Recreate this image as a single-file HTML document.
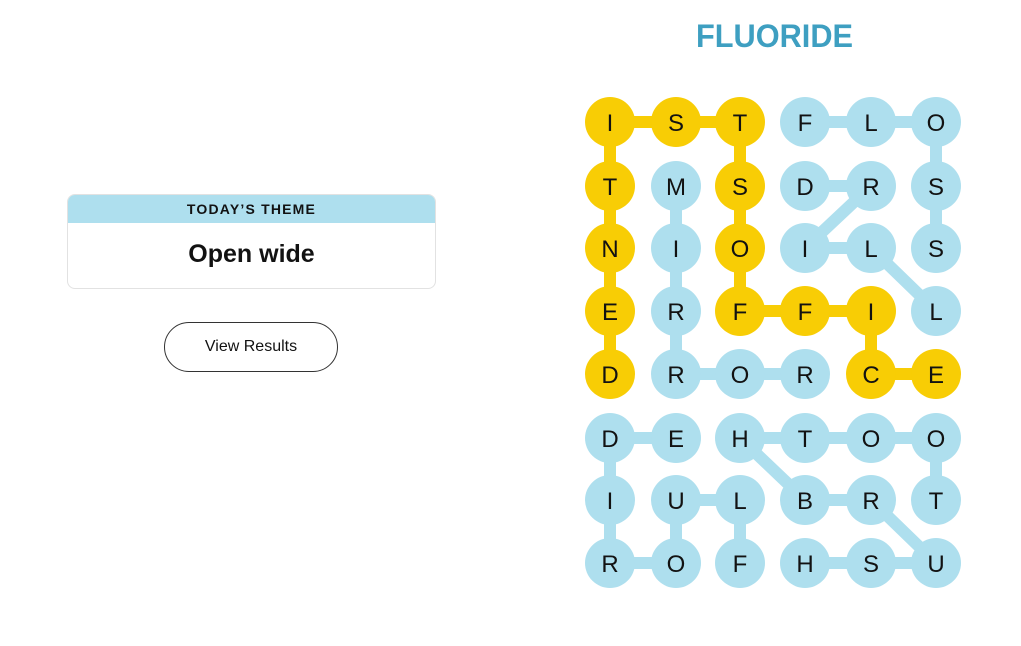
<!DOCTYPE html>
<html><head><meta charset="utf-8"><style>
body{margin:0;width:1021px;height:646px;background:#fff;overflow:hidden;position:relative;font-family:"Liberation Sans",sans-serif}
.card{position:absolute;left:67px;top:194px;width:369px;height:95px;border:1px solid #e2e2e2;border-radius:8px;overflow:hidden;box-sizing:border-box}
.hd{background:#aedfee;height:28px;text-align:center;font-size:14px;letter-spacing:1.2px;line-height:28px;color:#121212;font-weight:bold}
.bd{text-align:center;font-weight:bold;font-size:25px;line-height:62px;color:#121212}
.btn{position:absolute;left:164px;top:322px;width:174px;height:50px;border:1px solid #333;border-radius:25px;box-sizing:border-box;text-align:center;line-height:48px;font-size:16px;color:#121212}
svg{position:absolute;left:0;top:0}
</style></head><body>
<div class="card"><div class="hd">TODAY’S THEME</div><div class="bd">Open wide</div></div>
<div class="btn">View Results</div>
<svg width="1021" height="646" xmlns="http://www.w3.org/2000/svg">
<text x="696" y="47" font-family="Liberation Sans, sans-serif" font-weight="bold" font-size="32" fill="#3e9fc1" textLength="157" lengthAdjust="spacingAndGlyphs">FLUORIDE</text>
<g stroke-width="12" stroke-linecap="round">
<g stroke="#f8cd05">
<line x1="610" y1="122" x2="740" y2="122"/>
<line x1="610" y1="122" x2="610" y2="374"/>
<line x1="740" y1="122" x2="740" y2="311"/>
<line x1="740" y1="311" x2="871" y2="311"/>
<line x1="871" y1="311" x2="871" y2="374"/>
<line x1="871" y1="374" x2="936" y2="374"/>
</g>
<g stroke="#aedfee">
<line x1="805" y1="122" x2="936" y2="122"/>
<line x1="936" y1="122" x2="936" y2="248"/>
<line x1="805" y1="186" x2="871" y2="186"/>
<line x1="871" y1="186" x2="805" y2="248"/>
<line x1="805" y1="248" x2="871" y2="248"/>
<line x1="871" y1="248" x2="936" y2="311"/>
<line x1="676" y1="186" x2="676" y2="374"/>
<line x1="676" y1="374" x2="805" y2="374"/>
<line x1="610" y1="438" x2="676" y2="438"/>
<line x1="610" y1="438" x2="610" y2="563"/>
<line x1="610" y1="563" x2="676" y2="563"/>
<line x1="676" y1="563" x2="676" y2="500"/>
<line x1="676" y1="500" x2="740" y2="500"/>
<line x1="740" y1="500" x2="740" y2="563"/>
<line x1="740" y1="438" x2="936" y2="438"/>
<line x1="740" y1="438" x2="805" y2="500"/>
<line x1="805" y1="500" x2="871" y2="500"/>
<line x1="871" y1="500" x2="936" y2="563"/>
<line x1="936" y1="438" x2="936" y2="500"/>
<line x1="805" y1="563" x2="936" y2="563"/>
</g></g>
<g font-family="Liberation Sans, sans-serif" font-size="24" text-anchor="middle" fill="#121212" id="g"></g>
</svg>
<script>
var L=["ISTFLO","TMSDRS","NIOILS","ERFFIL","DRORCE","DEHTOO","IULBRT","ROFHSU"];
var Y=["111000","101000","101000","101110","100011","000000","000000","000000"];
var xs=[610,676,740,805,871,936],ys=[122,186,248,311,374,438,500,563];
var g=document.getElementById('g'),s='';
for(var r=0;r<8;r++)for(var c=0;c<6;c++){
s+='<circle cx="'+xs[c]+'" cy="'+ys[r]+'" r="25" fill="'+(Y[r][c]=='1'?'#f8cd05':'#aedfee')+'"/>';
s+='<text x="'+xs[c]+'" y="'+(ys[r]+9)+'">'+L[r][c]+'</text>';}
g.innerHTML=s;
</script>
</body></html>
